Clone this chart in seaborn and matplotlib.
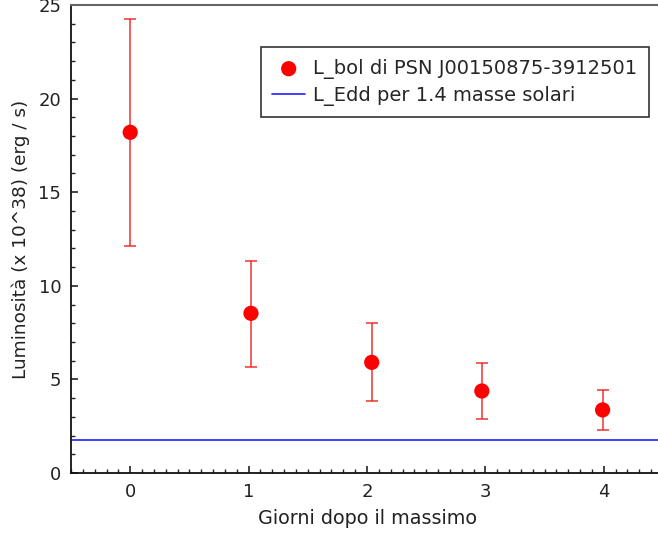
import numpy as np
import pandas as pd
import matplotlib
matplotlib.use("Agg")
import matplotlib.pyplot as plt
import seaborn as sns
from matplotlib.ticker import MultipleLocator

# Data
giorni = [0.0, 1.02, 2.04, 2.97, 3.99]
lum = [18.2, 8.53, 5.91, 4.38, 3.37]
err_up = [6.05, 2.81, 2.10, 1.48, 1.06]
err_lo = [6.06, 2.88, 2.05, 1.51, 1.07]
l_edd = 1.76
label_bol = "L_bol di PSN J00150875-3912501"
label_edd = "L_Edd per 1.4 masse solari"
xticks = [0, 1, 2, 3, 4]
yticks = [0, 5, 10, 15, 20, 25]

sns.set_style("white")
plt.rcParams['font.family'] = ['DejaVu Sans']

fig = plt.figure(figsize=(6.58, 5.40), dpi=100)
ax = fig.add_axes([71/658, 67/540, 592/658, 468/540])

df = pd.DataFrame({"giorni": giorni, "lum": lum})

ax.errorbar(giorni, lum, yerr=[err_lo, err_up], fmt='none', ecolor='#f02020',
            elinewidth=1.2, capsize=4, capthick=1.2, alpha=0.85, zorder=2)
sns.scatterplot(data=df, x="giorni", y="lum", ax=ax, color='#ff0000', marker='o',
                s=120, edgecolor='none', zorder=3, label=label_bol)
ax.axhline(l_edd, color='#2020ff', lw=1.2, zorder=1, label=label_edd)

ax.set_xlim(-0.5, 4.5)
ax.set_ylim(0, 25)
ax.set_xticks(xticks)
ax.set_yticks(yticks)
ax.xaxis.set_minor_locator(MultipleLocator(0.1))
ax.yaxis.set_minor_locator(MultipleLocator(1))
ax.tick_params(which='both', bottom=True, left=True, top=False, right=False)
ax.tick_params(which='major', direction='in', length=5, width=1.2, color='#222222',
               labelsize=13, labelcolor='#222222', pad=7)
ax.tick_params(which='minor', direction='in', length=3, width=1.0, color='#222222')

for s in ['left', 'bottom']:
    ax.spines[s].set_color('#111111')
    ax.spines[s].set_linewidth(1.3)
ax.spines['top'].set_color('#666666')
ax.spines['top'].set_linewidth(1.5)
ax.spines['right'].set_color('#666666')

ax.set_xlabel("Giorni dopo il massimo", fontsize=13.8, color='#222222', labelpad=6)
ax.set_ylabel("Luminosità (x 10^38) (erg / s)", fontsize=13.3, color='#222222', labelpad=6)

leg = ax.legend(loc='upper right', bbox_to_anchor=(0.976, 0.910), fontsize=14,
                frameon=True, fancybox=False, framealpha=1, edgecolor='#333333',
                handlelength=1.7, handletextpad=0.4, borderpad=0.6, labelspacing=0.35,
                borderaxespad=0)
leg.get_frame().set_linewidth(1.2)

fig.savefig("out.png", dpi=100)
